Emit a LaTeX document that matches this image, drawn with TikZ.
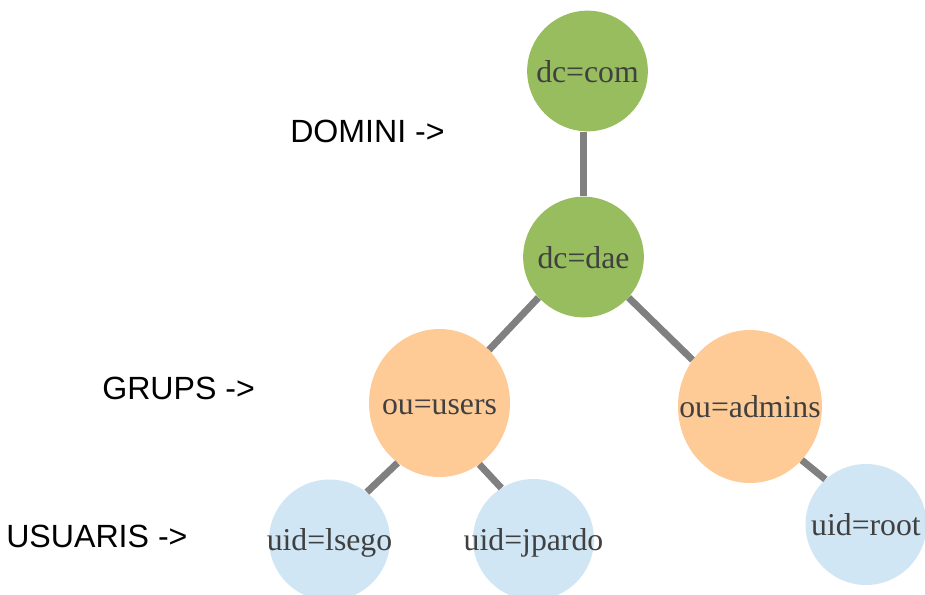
\documentclass[tikz,border=0pt]{standalone}
\usepackage{fontspec}
\setmainfont{Liberation Serif}
\newfontfamily\labelfont{Liberation Sans}
\usetikzlibrary{shapes.geometric}

\definecolor{domgreen}{HTML}{97BD5E}
\definecolor{grporange}{HTML}{FECB96}
\definecolor{usrblue}{HTML}{D0E6F4}
\definecolor{edgegray}{HTML}{808080}
\definecolor{txtgray}{HTML}{404040}

\tikzset{
  dom/.style={circle, fill=domgreen, draw=none, inner sep=0pt, minimum size=90.5pt},
  grp/.style={ellipse, fill=grporange, draw=none, inner sep=0pt},
  usr/.style={circle, fill=usrblue, draw=none, inner sep=0pt, minimum size=90.75pt},
  ntext/.style={font=\fontsize{23.8pt}{28pt}\selectfont, text=txtgray, inner sep=0pt, anchor=base},
  level/.style={font=\labelfont\fontsize{24.1pt}{28pt}\selectfont, text=black, inner sep=0pt, anchor=base west},
  edge/.style={draw=edgegray, line width=5.2pt}
}

\begin{document}
\begin{tikzpicture}[x=0.75pt, y=-0.75pt]
  \useasboundingbox (0,0) rectangle (925,594);

  % level captions
  \node[level] (lvdom) at (290,142) {DOMINI ->};
  \node[level] (lvgrp) at (102,399) {GRUPS ->};
  \node[level] (lvusr) at (6,547) {USUARIS ->};

  % tree nodes
  \node[dom] (com) at (587.5,71) {};
  \node[dom] (dae) at (583.5,257) {};
  \node[grp, minimum width=105.75pt, minimum height=111pt] (users) at (439.5,403) {};
  \node[grp, minimum width=108pt, minimum height=114.75pt] (admins) at (750,406.5) {};
  \node[usr] (lsego) at (329.5,540) {};
  \node[usr] (jpardo) at (533.5,539.5) {};
  \node[usr] (root) at (866,524.5) {};

  % connectors
  \draw[edge] (dae.north) -- (dae.north |- com.south);
  \draw[edge] (dae.222) -- (users.47);
  \draw[edge] (dae.318) -- (admins.141.5);
  \draw[edge] (users.235) -- (lsego.52);
  \draw[edge] (users.303) -- (jpardo.122);
  \draw[edge] (admins.314) -- (root.132.5);

  % node texts
  \node[ntext] (comL) at ([yshift=-8.3pt]com.center) {dc=com};
  \node[ntext] (daeL) at ([yshift=-8.3pt]dae.center) {dc=dae};
  \node[ntext] (usersL) at ([yshift=-8.8pt]users.center) {ou=users};
  \node[ntext] (adminsL) at ([yshift=-8.5pt]admins.center) {ou=admins};
  \node[ntext] (lsegoL) at ([yshift=-7.7pt]lsego.center) {uid=lsego};
  \node[ntext] (jpardoL) at ([yshift=-8.3pt]jpardo.center) {uid=jpardo};
  \node[ntext] (rootL) at ([yshift=-7.9pt]root.center) {uid=root};
\end{tikzpicture}
\end{document}
